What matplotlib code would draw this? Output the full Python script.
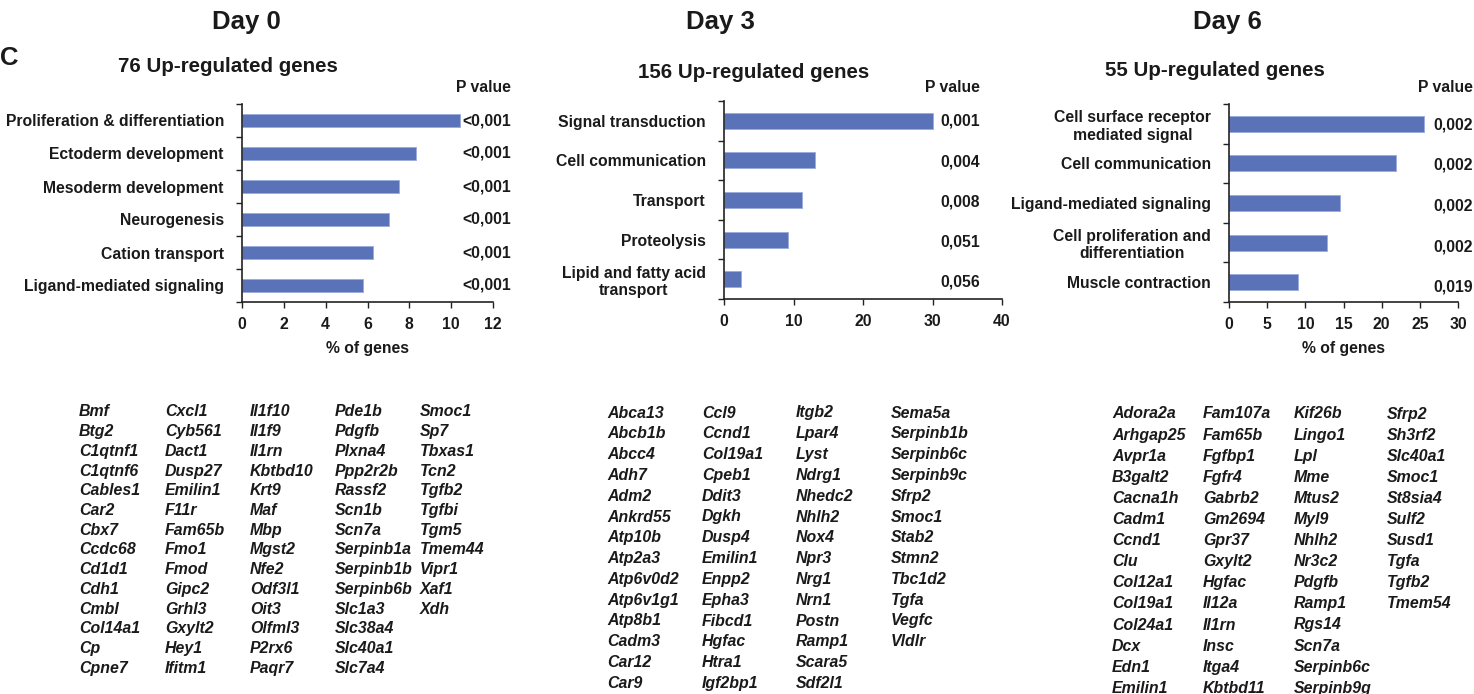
import numpy as np
import matplotlib
matplotlib.use("Agg")
import matplotlib.pyplot as plt

plt.rcParams['font.family'] = ['Liberation Sans', 'DejaVu Sans']
plt.rcParams['font.weight'] = 'bold'

W, H = 1474, 694

# ---------------- data ----------------
day0_cats = ["Proliferation & differentiation", "Ectoderm development", "Mesoderm development",
             "Neurogenesis", "Cation transport", "Ligand-mediated signaling"]
day0_vals = [10.4, 8.3, 7.5, 7.05, 6.25, 5.8]
day0_p = ["<0,001", "<0,001", "<0,001", "<0,001", "<0,001", "<0,001"]

day3_cats = ["Signal transduction", "Cell communication", "Transport", "Proteolysis",
             "Lipid and fatty acid\ntransport"]
day3_vals = [30.1, 13.1, 11.2, 9.25, 2.5]
day3_p = ["0,001", "0,004", "0,008", "0,051", "0,056"]

day6_cats = ["Cell surface receptor\nmediated signal", "Cell communication", "Ligand-mediated signaling",
             "Cell proliferation and\ndifferentiation", "Muscle contraction"]
day6_vals = [25.5, 21.9, 14.5, 12.8, 9.1]
day6_p = ["0,002", "0,002", "0,002", "0,002", "0,019"]

day0_genes = ["Bmf", "Btg2", "C1qtnf1", "C1qtnf6", "Cables1", "Car2", "Cbx7", "Ccdc68", "Cd1d1", "Cdh1",
              "Cmbl", "Col14a1", "Cp", "Cpne7",
              "Cxcl1", "Cyb561", "Dact1", "Dusp27", "Emilin1", "F11r", "Fam65b", "Fmo1", "Fmod", "Gipc2",
              "Grhl3", "Gxylt2", "Hey1", "Ifitm1",
              "Il1f10", "Il1f9", "Il1rn", "Kbtbd10", "Krt9", "Maf", "Mbp", "Mgst2", "Nfe2", "Odf3l1",
              "Oit3", "Olfml3", "P2rx6", "Paqr7",
              "Pde1b", "Pdgfb", "Plxna4", "Ppp2r2b", "Rassf2", "Scn1b", "Scn7a", "Serpinb1a", "Serpinb1b",
              "Serpinb6b", "Slc1a3", "Slc38a4", "Slc40a1", "Slc7a4",
              "Smoc1", "Sp7", "Tbxas1", "Tcn2", "Tgfb2", "Tgfbi", "Tgm5", "Tmem44", "Vipr1", "Xaf1", "Xdh"]

day3_genes = ["Abca13", "Abcb1b", "Abcc4", "Adh7", "Adm2", "Ankrd55", "Atp10b", "Atp2a3", "Atp6v0d2",
              "Atp6v1g1", "Atp8b1", "Cadm3", "Car12", "Car9",
              "Ccl9", "Ccnd1", "Col19a1", "Cpeb1", "Ddit3", "Dgkh", "Dusp4", "Emilin1", "Enpp2", "Epha3",
              "Fibcd1", "Hgfac", "Htra1", "Igf2bp1",
              "Itgb2", "Lpar4", "Lyst", "Ndrg1", "Nhedc2", "Nhlh2", "Nox4", "Npr3", "Nrg1", "Nrn1",
              "Postn", "Ramp1", "Scara5", "Sdf2l1",
              "Sema5a", "Serpinb1b", "Serpinb6c", "Serpinb9c", "Sfrp2", "Smoc1", "Stab2", "Stmn2",
              "Tbc1d2", "Tgfa", "Vegfc", "Vldlr"]

day6_genes = ["Adora2a", "Arhgap25", "Avpr1a", "B3galt2", "Cacna1h", "Cadm1", "Ccnd1", "Clu", "Col12a1",
              "Col19a1", "Col24a1", "Dcx", "Edn1", "Emilin1",
              "Fam107a", "Fam65b", "Fgfbp1", "Fgfr4", "Gabrb2", "Gm2694", "Gpr37", "Gxylt2", "Hgfac",
              "Il12a", "Il1rn", "Insc", "Itga4", "Kbtbd11",
              "Kif26b", "Lingo1", "Lpl", "Mme", "Mtus2", "Myl9", "Nhlh2", "Nr3c2", "Pdgfb", "Ramp1",
              "Rgs14", "Scn7a", "Serpinb6c", "Serpinb9g",
              "Sfrp2", "Sh3rf2", "Slc40a1", "Smoc1", "St8sia4", "Sulf2", "Susd1", "Tgfa", "Tgfb2", "Tmem54"]

# ---------------- figure ----------------
fig = plt.figure(figsize=(W / 100, H / 100), dpi=100)
TXT = '#1a1a1a'
BAR = '#5a72b8'
FS = 11.3


def fx(x):
    return x / W


def fy(y):
    return 1 - y / H


def make_panel(rect, cats, vals, pvals, xmax, xstep, p_xfrac, p_dy, xlabel):
    l, t, r, b = rect
    ax = fig.add_axes([fx(l), fy(b), fx(r - l), (b - t) / H])
    n = len(cats)
    ypos = np.arange(n)
    ax.barh(ypos, vals, height=0.4, color=BAR, edgecolor='#9aaade', linewidth=0.6)
    ax.set_ylim(n - 0.5, -0.5)
    ax.set_xlim(0, xmax)
    ax.set_xticks(np.arange(0, xmax + 0.01, xstep))
    ax.set_xticklabels([f"{v:g}" for v in np.arange(0, xmax + 0.01, xstep)],
                       fontsize=FS, fontweight='bold', color=TXT)
    ax.set_yticks(ypos)
    ax.set_yticklabels(cats, fontsize=FS, fontweight='bold', color=TXT)
    for tl in ax.get_yticklabels():
        tl.set_multialignment('center')
    ax.set_yticks(np.arange(-0.5, n, 1.0), minor=True)
    ax.tick_params(axis='y', which='major', length=0, pad=13)
    ax.tick_params(axis='y', which='minor', length=4, width=1, direction='out', color='#222')
    ax.tick_params(axis='x', which='major', length=4, width=1, direction='out', pad=7, color='#222')
    for s in ['top', 'right']:
        ax.spines[s].set_visible(False)
    for s in ['left', 'bottom']:
        ax.spines[s].set_color('#222')
        ax.spines[s].set_linewidth(1.2)
    for i, p in enumerate(pvals):
        ax.text(p_xfrac, i + p_dy * (i + 1) / n, p, transform=ax.get_yaxis_transform(),
                ha='right', va='center', fontsize=FS, fontweight='bold', color=TXT, clip_on=False)
    if xlabel:
        ax.set_xlabel(xlabel, fontsize=FS, fontweight='bold', color=TXT, labelpad=6)
    return ax


make_panel((242, 104, 493, 302), day0_cats, day0_vals, day0_p, 12, 2, 1.071, 0.0, "% of genes")
make_panel((724, 101, 1002, 299), day3_cats, day3_vals, day3_p, 40, 10, 0.92, 0.08, None)
make_panel((1229, 104, 1458, 302), day6_cats, day6_vals, day6_p, 30, 5, 1.066, 0.13, "% of genes")

# headers
for x, txt in [(246, "Day 0"), (720, "Day 3"), (1227, "Day 6")]:
    fig.text(fx(x), fy(22), txt, ha='center', va='center', fontsize=18.5, fontweight='bold', color=TXT)
fig.text(fx(0), fy(58), "C", ha='left', va='center', fontsize=18.5, fontweight='bold', color=TXT)
for x, y, txt in [(228, 67, "76 Up-regulated genes"), (754, 72, "156 Up-regulated genes"),
                  (1215, 70, "55 Up-regulated genes")]:
    fig.text(fx(x), fy(y), txt, ha='center', va='center', fontsize=14.8, fontweight='bold', color=TXT)
for x, y in [(511, 88), (980, 88), (1473, 88)]:
    fig.text(fx(x), fy(y), "P value", ha='right', va='center', fontsize=FS, fontweight='bold', color=TXT)

# gene lists
ROWS = 14


def gene_block(genes, col_x, y0, dy):
    for i, g in enumerate(genes):
        c, r = divmod(i, ROWS)
        fig.text(fx(col_x[c]), fy(y0 + r * dy), g, ha='left', va='center', fontsize=11.4,
                 fontweight='bold', fontstyle='italic', color=TXT)


gene_block(day0_genes, [79, 165, 250, 335, 420], 412, 19.7)
gene_block(day3_genes, [607, 702, 796, 891], 413, 20.8)
gene_block(day6_genes, [1112, 1203, 1294, 1387], 414, 21.1)

fig.savefig("out.png", dpi=100)
